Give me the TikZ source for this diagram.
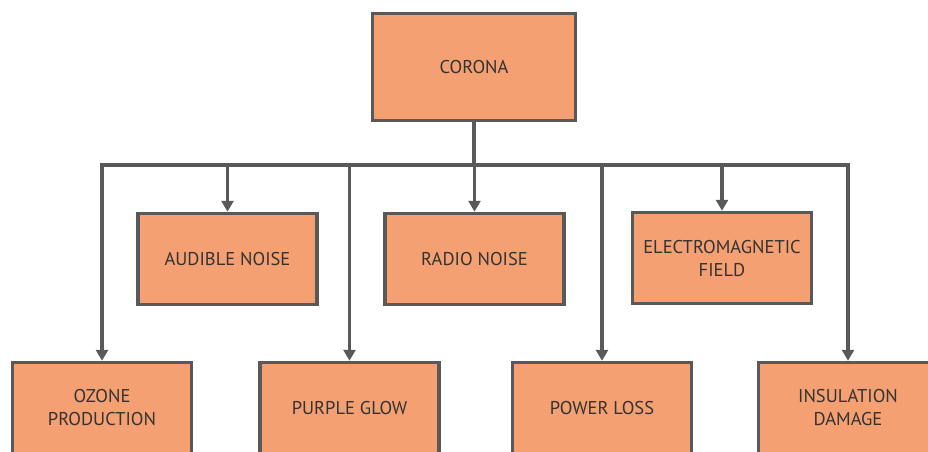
\documentclass[tikz,border=0pt]{standalone}
\usepackage{fontspec}
\setmainfont{PT Sans}
\usepackage{xcolor}
\usepackage{tikz}
\usetikzlibrary{arrows.meta,positioning}
\definecolor{boxfill}{HTML}{F4A072}
\definecolor{edgex}{HTML}{595959}
\definecolor{textx}{HTML}{333333}
\tikzset{
  box/.style={draw=edgex,line width=3.5pt,fill=boxfill,align=center,text=textx,
    font=\fontsize{18.5}{23}\selectfont,minimum width=179pt,minimum height=91pt,inner sep=2pt},
  ln/.style={edgex,line width=3.5pt},
  ar/.style={-{Triangle[length=11pt,width=12pt]},edgex,line width=3.5pt}
}
\begin{document}
\begin{tikzpicture}[x=1pt,y=1pt]
\useasboundingbox (0,0) rectangle (928,451);
\clip (0,0) rectangle (928,451);
\node[box,minimum width=203pt,minimum height=107pt] (corona) at (474,384) {CORONA};
\node[box] (audible) at (227.5,192) {AUDIBLE NOISE};
\node[box] (radio) at (474.5,192) {RADIO NOISE};
\node[box] (emfield) at (722,193) {ELECTROMAGNETIC\\FIELD};
\node[box] (ozone) at (102,43) {OZONE\\PRODUCTION};
\node[box] (purple) at (349.5,43) {PURPLE GLOW};
\node[box] (power) at (602,43) {POWER LOSS};
\node[box] (insul) at (848,43) {INSULATION\\DAMAGE};
\coordinate (busL) at (102,286);
\coordinate (busR) at (848,286);
\draw[ln] (corona.south) -- (corona.south |- busL);
\draw[ln,line cap=rect] (busL) -- (busR);
\foreach \n in {ozone,audible,purple,radio,power,emfield,insul}
  \draw[ar] (\n.north |- busL) -- (\n.north);
\end{tikzpicture}
\end{document}
